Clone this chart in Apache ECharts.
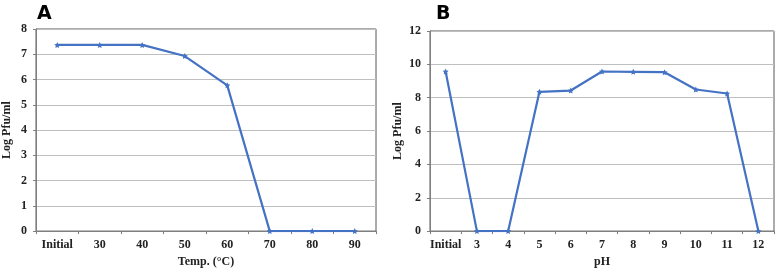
<!DOCTYPE html>
<html>
<head>
<meta charset="utf-8">
<script src="https://cdn.jsdelivr.net/npm/echarts@6/dist/echarts.min.js"></script>
<style>
  html, body { margin: 0; padding: 0; background: #fff; }
  #main { width: 777px; height: 273px; }
</style>
</head>
<body>
<div id="main"></div>
<script>
// panel A: temperature stability
var tempLabels = ['Initial', '30', '40', '50', '60', '70', '80', '90'];
var tempValues = [7.37, 7.37, 7.37, 6.93, 5.77, 0, 0, 0];
var tempTicks = [0, 1, 2, 3, 4, 5, 6, 7, 8];

// panel B: pH stability
var phLabels = ['Initial', '3', '4', '5', '6', '7', '8', '9', '10', '11', '12'];
var phValues = [9.57, 0, 0, 8.35, 8.43, 9.57, 9.55, 9.53, 8.49, 8.25, 0];
var phTicks = [0, 2, 4, 6, 8, 10, 12];

var lineColor = '#4472C4';
var serif = '"Liberation Serif", "DejaVu Serif", serif';
var star = 'path://M0,-10 L2.9,-4 9.5,-3.1 4.7,1.5 5.9,8.1 0,5 -5.9,8.1 -4.7,1.5 -9.5,-3.1 -2.9,-4 Z';

function xAxisFor(idx, labels, name) {
  return {
    type: 'category', gridIndex: idx, data: labels, boundaryGap: true,
    name: name, nameLocation: 'middle', nameGap: 23,
    nameTextStyle: { fontFamily: serif, fontWeight: 'bold', fontSize: 12, color: '#222' },
    axisLine: { lineStyle: { color: '#7f7f7f', width: 1 } },
    axisTick: { show: true, length: 3, lineStyle: { color: '#7f7f7f' } },
    axisLabel: { fontFamily: serif, fontWeight: 'bold', fontSize: 12, color: '#222', margin: 8, interval: 0 },
    splitLine: { show: false }
  };
}

function yAxisFor(idx, ticks, gap) {
  var step = ticks[1] - ticks[0];
  return {
    type: 'value', gridIndex: idx, min: ticks[0], max: ticks[ticks.length - 1], interval: step,
    name: 'Log Pfu/ml', nameLocation: 'middle', nameGap: gap,
    nameTextStyle: { fontFamily: serif, fontWeight: 'bold', fontSize: 12, color: '#222' },
    axisLine: { show: true, lineStyle: { color: '#7f7f7f', width: 1 } },
    axisTick: { show: true, length: 3, lineStyle: { color: '#7f7f7f' } },
    axisLabel: { fontFamily: serif, fontWeight: 'bold', fontSize: 12, color: '#222', margin: 9 },
    splitLine: { show: true, lineStyle: { color: '#bfbfbf', width: 1 } }
  };
}

function seriesFor(idx, values) {
  return {
    type: 'line', xAxisIndex: idx, yAxisIndex: idx, data: values,
    symbol: star, symbolSize: 6, showSymbol: true,
    lineStyle: { color: lineColor, width: 2.2 },
    itemStyle: { color: lineColor },
    animation: false
  };
}

var chart = echarts.init(document.getElementById('main'), null, { renderer: 'canvas' });
chart.setOption({
  backgroundColor: '#fff',
  title: [
    { text: 'A', left: 32, top: 0, textStyle: { fontFamily: '"DejaVu Sans", sans-serif', fontWeight: 'bold', fontSize: 19, color: '#000' } },
    { text: 'B', left: 431, top: 0, textStyle: { fontFamily: '"DejaVu Sans", sans-serif', fontWeight: 'bold', fontSize: 19, color: '#000' } }
  ],
  grid: [
    { left: 31, right: 401, top: 29, bottom: 41, show: true, borderColor: '#595959', borderWidth: 1, backgroundColor: 'transparent' },
    { left: 430, right: 3, top: 31, bottom: 38, show: true, borderColor: '#595959', borderWidth: 1, backgroundColor: 'transparent' }
  ],
  xAxis: [xAxisFor(0, tempLabels, 'Temp. (°C)'), xAxisFor(1, phLabels, 'pH')],
  yAxis: [yAxisFor(0, tempTicks, 23), yAxisFor(1, phTicks, 26)],
  series: [seriesFor(0, tempValues), seriesFor(1, phValues)]
});
</script>
</body>
</html>
